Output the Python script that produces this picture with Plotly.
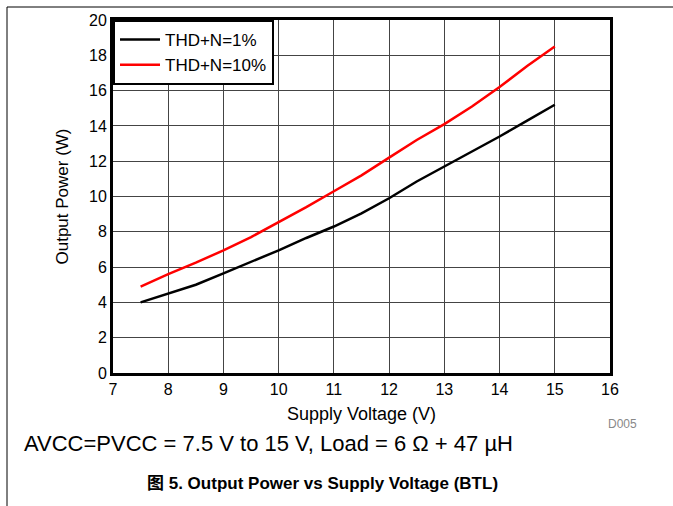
import plotly.graph_objects as go

voltage = [7.5, 8, 8.5, 9, 9.5, 10, 10.5, 11, 11.5, 12, 12.5, 13, 13.5, 14, 14.5, 15]
thd1 = [4.0, 4.5, 5.0, 5.65, 6.3, 6.95, 7.65, 8.3, 9.05, 9.9, 10.85, 11.7, 12.55, 13.4, 14.3, 15.2]
thd10 = [4.9, 5.6, 6.25, 6.95, 7.7, 8.55, 9.4, 10.3, 11.2, 12.2, 13.2, 14.1, 15.1, 16.2, 17.4, 18.5]

x_ticks = [7, 8, 9, 10, 11, 12, 13, 14, 15, 16]
y_ticks = [0, 2, 4, 6, 8, 10, 12, 14, 16, 18, 20]

W, H = 673, 506
L, R, T, B = 113, 63, 20, 133
pw, ph = W - L - R, H - T - B

def px(x):
    return (x - L) / pw

def py(y):
    return (H - B - y) / ph

font = "Liberation Sans, Arial, Noto Sans CJK SC, sans-serif"

fig = go.Figure()
fig.add_trace(go.Scatter(x=voltage, y=thd1, mode="lines", name="THD+N=1%",
                         line=dict(color="black", width=2.5)))
fig.add_trace(go.Scatter(x=voltage, y=thd10, mode="lines", name="THD+N=10%",
                         line=dict(color="#ff0000", width=2.5)))

fig.update_layout(
    width=W, height=H,
    margin=dict(l=L, r=R, t=T, b=B),
    paper_bgcolor="white", plot_bgcolor="white",
    font=dict(family=font, size=16, color="black"),
    showlegend=True,
    legend=dict(x=0, y=1, xanchor="left", yanchor="top",
                bordercolor="black", borderwidth=2, bgcolor="white",
                font=dict(size=17), tracegroupgap=0, itemwidth=40),
    xaxis=dict(range=[7, 16], tickvals=x_ticks, showgrid=True,
               gridcolor="#444444", gridwidth=1, showline=True, mirror=True,
               linecolor="black", linewidth=3, zeroline=False, ticks="",
               title=dict(text="Supply Voltage (V)", font=dict(size=18), standoff=11),
               tickfont=dict(size=16)),
    yaxis=dict(range=[0, 20], tickvals=y_ticks, showgrid=True,
               gridcolor="#444444", gridwidth=1, showline=True, mirror=True,
               linecolor="black", linewidth=3, zeroline=False, ticks="",
               title=dict(text="Output Power (W)", font=dict(size=17), standoff=17),
               tickfont=dict(size=16)),
)

fig.add_shape(type="line", xref="paper", yref="paper",
              x0=px(7), x1=px(673), y0=py(7), y1=py(7),
              line=dict(color="black", width=1))
fig.add_shape(type="line", xref="paper", yref="paper",
              x0=px(7), x1=px(7), y0=py(7), y1=py(506),
              line=dict(color="black", width=1))

fig.add_annotation(text="D005", xref="paper", yref="paper", x=px(622), y=py(424),
                   xanchor="center", yanchor="middle",
                   showarrow=False, font=dict(size=12, color="#888888"))
fig.add_annotation(text="AVCC=PVCC = 7.5 V to 15 V, Load = 6 Ω + 47 µH",
                   xref="paper", yref="paper", x=px(22), y=py(444),
                   xanchor="left", yanchor="middle", showarrow=False,
                   font=dict(size=22))
fig.add_annotation(text="<b>图 5. Output Power vs Supply Voltage (BTL)</b>",
                   xref="paper", yref="paper", x=px(322), y=py(483),
                   xanchor="center", yanchor="middle", showarrow=False,
                   font=dict(size=17))

fig.write_html("out.html", config={"displayModeBar": False},
               post_script="document.body.style.margin='0';")
